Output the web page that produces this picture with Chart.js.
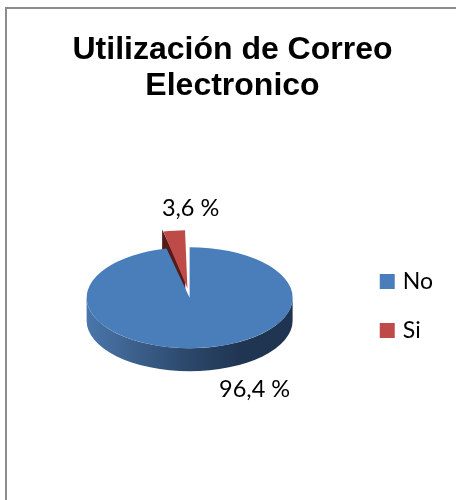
<!DOCTYPE html>
<html>
<head>
<meta charset="utf-8">
<style>
html,body{margin:0;padding:0;background:#fff}
#wrap{width:456px;height:500px}
canvas{display:block}
</style>
<script src="https://cdn.jsdelivr.net/npm/chart.js@4"></script>
</head>
<body>
<div id="wrap"><canvas id="pie" width="456" height="500"></canvas></div>
<script>
const titleLines = ["Utilización de Correo", "Electronico"];
const categories = ["No", "Si"];
const percents = [96.4, 3.6];
const valueLabels = ["96,4 %", "3,6 %"];
const sliceColors = ["#4a7ebb", "#be4b48"];

const tilt = 0.49;      // squash of the pie, to look 3D
const depth = 23;       // height of the side wall
const pieShiftX = 0;
const pieShiftY = 0;
const legendShiftX = -12;
const legendShiftY = 51;

const tiltPlugin = {
  id: "tilt",
  // built-in legend sits too far right and too high, nudge it
  afterLayout(chart) {
    const lg = chart.legend;
    lg.left += legendShiftX;
    lg.right += legendShiftX;
    lg.top += legendShiftY;
    lg.bottom += legendShiftY;
  },
  // chart frame, only top and left show in the crop
  beforeDraw(chart) {
    const ctx = chart.ctx;
    ctx.save();
    ctx.strokeStyle = "#8c8c8c";
    ctx.lineWidth = 2;
    ctx.beginPath();
    ctx.moveTo(6, 500);
    ctx.lineTo(6, 8);
    ctx.lineTo(456, 8);
    ctx.stroke();
    ctx.restore();
  },
  // side walls + squash, runs before the library draws the arcs
  beforeDatasetsDraw(chart) {
    const ctx = chart.ctx;
    const arcs = chart.getDatasetMeta(0).data;
    const blue = arcs[0], red = arcs[1];
    const cx = blue.x + pieShiftX, cy = blue.y + pieShiftY;
    const r = blue.outerRadius;

    ctx.save();
    // dark cut face of the pulled out slice, arc draw moves it by offset/2
    const mid = (red.startAngle + red.endAngle) / 2;
    const ax = cx + Math.cos(mid) * red.options.offset / 2;
    const ay = cy + Math.sin(mid) * red.options.offset / 2 * tilt;
    const ox = ax + Math.cos(red.startAngle) * r;
    const oy = ay + Math.sin(red.startAngle) * r * tilt;
    ctx.fillStyle = "#531b19";
    ctx.beginPath();
    ctx.moveTo(ax, ay);
    ctx.lineTo(ox, oy);
    ctx.lineTo(ox, oy + depth);
    ctx.lineTo(ax, ay + depth);
    ctx.closePath();
    ctx.fill();

    // front wall of the big slice
    const grad = ctx.createLinearGradient(cx - r, 0, cx + r, 0);
    grad.addColorStop(0, "#4a76ab");
    grad.addColorStop(0.5, "#2b4769");
    grad.addColorStop(0.75, "#1f3552");
    grad.addColorStop(1, "#1e3450");
    ctx.fillStyle = grad;
    ctx.beginPath();
    ctx.ellipse(cx, cy, r, r * tilt, 0, 0, Math.PI);
    ctx.ellipse(cx, cy + depth, r, r * tilt, 0, Math.PI, 0, true);
    ctx.closePath();
    ctx.fill();
    ctx.restore();

    ctx.save();
    ctx.translate(cx, cy);
    ctx.scale(1, tilt);
    ctx.translate(-blue.x, -blue.y);
  },
  afterDatasetsDraw(chart) {
    const ctx = chart.ctx;
    ctx.restore();
    const blue = chart.getDatasetMeta(0).data[0];
    const cx = blue.x + pieShiftX, cy = blue.y + pieShiftY;
    ctx.save();
    ctx.font = "23.5px Lato";
    ctx.fillStyle = "#000";
    ctx.textAlign = "center";
    ctx.textBaseline = "middle";
    ctx.fillText(valueLabels[0], cx + 65, cy + 91.5);
    ctx.fillText(valueLabels[1], cx + 1, cy - 89.5);
    ctx.restore();
  }
};

new Chart(document.getElementById("pie"), {
  type: "pie",
  data: {
    labels: categories,
    datasets: [{
      data: percents,
      backgroundColor: sliceColors,
      borderWidth: 0,
      offset: [0, 78],
      radius: 103
    }]
  },
  options: {
    responsive: false,
    animation: false,
    layout: { padding: { left: 10, right: 1, top: 20, bottom: 10 } },
    plugins: {
      title: {
        display: true,
        text: titleLines,
        color: "#000",
        font: { family: "Liberation Sans", size: 32, weight: "bold", lineHeight: 1.1 },
        padding: { top: 13, bottom: 2 }
      },
      legend: {
        position: "right",
        labels: {
          boxWidth: 8,
          boxHeight: 8,
          padding: 26,
          color: "#000",
          font: { family: "Lato", size: 23 },
          // thick same colour stroke: swatch stays 15px, text comes closer to it
          generateLabels(chart) {
            return Chart.overrides.pie.plugins.legend.labels.generateLabels(chart).map((item, i) => {
              item.strokeStyle = sliceColors[i];
              item.lineWidth = 7;
              return item;
            });
          }
        }
      },
      tooltip: { enabled: false }
    }
  },
  plugins: [tiltPlugin]
});
</script>
</body>
</html>
